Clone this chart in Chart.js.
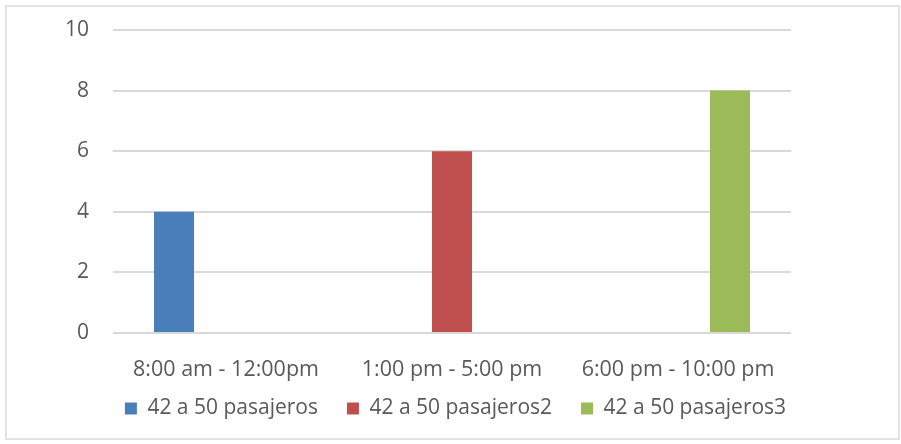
<!DOCTYPE html>
<html>
<head>
<meta charset="utf-8">
<script src="https://cdn.jsdelivr.net/npm/chart.js@4/dist/chart.umd.min.js"></script>
<style>
  html, body { margin: 0; padding: 0; background: #fff; }
  #wrap { position: relative; width: 901px; height: 444px; }
</style>
</head>
<body>
<div id="wrap"><canvas id="grafico" width="901" height="444"></canvas></div>
<script>
const horarios = ['8:00 am - 12:00pm', '1:00 pm - 5:00 pm', '6:00 pm - 10:00 pm'];
const serie1 = [4, null, null];
const serie2 = [null, 6, null];
const serie3 = [null, null, 8];
const nombres = ['42 a 50 pasajeros', '42 a 50 pasajeros2', '42 a 50 pasajeros3'];

const azul = '#4a7ebb';
const rojo = '#c0504d';
const verde = '#9bbb59';
const gris = '#595959';

// marco gris claro alrededor del grafico
const marco = {
  id: 'marco',
  beforeDraw(chart) {
    const ctx = chart.ctx;
    ctx.save();
    ctx.strokeStyle = '#e2e2e2';
    ctx.lineWidth = 2;
    ctx.strokeRect(6, 6, 893, 433);
    ctx.restore();
  }
};

// sube la leyenda para dejarla mas cerca de las etiquetas del eje x
const subirLeyenda = {
  id: 'subirLeyenda',
  afterLayout(chart) {
    const lg = chart.legend;
    if (!lg) return;
    lg.top -= 12;
    lg.bottom -= 12;
  }
};

Chart.defaults.font.family = '"Open Sans", sans-serif';
Chart.defaults.font.size = 21;
Chart.defaults.color = gris;

new Chart(document.getElementById('grafico'), {
  type: 'bar',
  data: {
    labels: horarios,
    datasets: [
      { label: nombres[0], data: serie1, backgroundColor: azul },
      { label: nombres[1], data: serie2, backgroundColor: rojo },
      { label: nombres[2], data: serie3, backgroundColor: verde }
    ]
  },
  options: {
    responsive: false,
    animation: false,
    categoryPercentage: 0.69,
    barPercentage: 0.77,
    layout: { padding: { top: 30, right: 0, bottom: 3, left: 10 } },
    plugins: {
      legend: {
        position: 'bottom',
        labels: { boxWidth: 12, boxHeight: 12, padding: 29, color: gris, font: { size: 21 } }
      },
      tooltip: { enabled: false }
    },
    scales: {
      x: {
        grid: { display: false, drawTicks: false },
        border: { display: false },
        ticks: { padding: 26, maxRotation: 0, font: { size: 21.5, lineHeight: 1 } },
        afterFit(scale) { scale.height = 48; }
      },
      y: {
        min: 0,
        max: 10,
        ticks: { stepSize: 2, padding: 24 },
        grid: { color: '#d9d9d9', lineWidth: 2, drawTicks: false },
        border: { display: false },
        afterFit(scale) {
          scale.width = 103;
          scale.paddingTop = 0;
          scale.paddingBottom = 0;
        }
      },
      // espacio vacio a la derecha del area de barras
      derecha: {
        position: 'right',
        ticks: { display: false },
        grid: { display: false },
        border: { display: false },
        afterFit(scale) {
          scale.width = 110;
          scale.paddingTop = 0;
          scale.paddingBottom = 0;
        }
      }
    }
  },
  plugins: [marco, subirLeyenda]
});
</script>
</body>
</html>
